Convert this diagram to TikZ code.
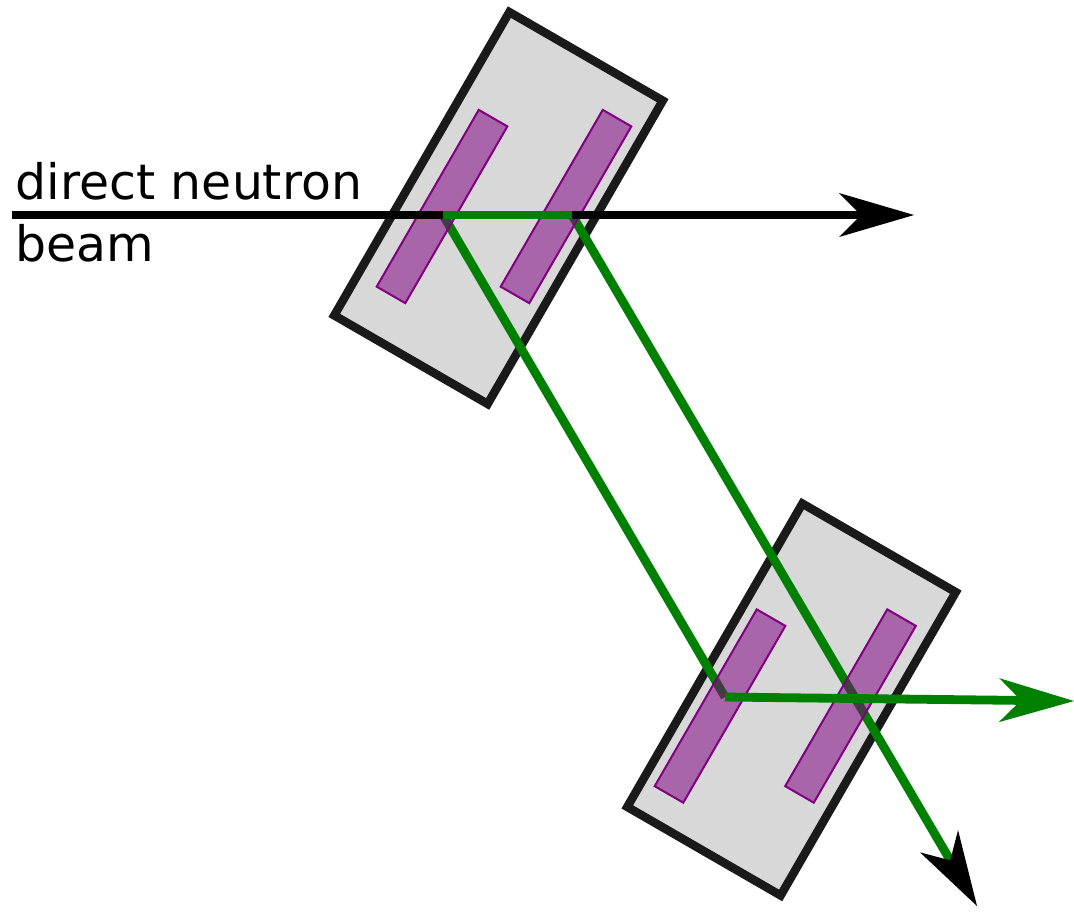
\documentclass[tikz,border=0pt]{standalone}
\usepackage{fontspec}
\setmainfont{DejaVu Sans}
\usetikzlibrary{arrows.meta}
\definecolor{boxgray}{HTML}{D8D8D8}
\definecolor{boxline}{HTML}{1A1A1A}
\definecolor{raygreen}{HTML}{008000}
\definecolor{slabpurple}{HTML}{800080}
\begin{document}
\begin{tikzpicture}[x=0.01cm,y=-0.01cm,
  crystal/.style={rectangle,draw=boxline,fill=boxgray,line width=0.085cm,rotate=-30,inner sep=0pt,minimum width=1.77cm,minimum height=3.5cm},
  slab/.style={rectangle,draw=slabpurple,fill=slabpurple,fill opacity=0.53,line width=0.02cm,rotate=-30,inner sep=0pt,minimum width=0.33cm,minimum height=2.04cm},
  ray/.style={raygreen,line width=0.088cm},
  beamtip/.style={-{Stealth[length=0.75cm,width=0.44cm,inset=0.22cm,line width=0pt,#1]}},
  lbl/.style={anchor=base west,inner sep=0pt,font=\fontsize{13.9pt}{16pt}\selectfont}]
\useasboundingbox (0,0) rectangle (1074,911);
\node[crystal] (c1) at (498.5,208) {};
\node[crystal] (c2) at (791.5,699.5) {};
\coordinate (in) at (12,215);
\coordinate (out) at (914,215);
\coordinate (a) at (443,215);
\coordinate (b) at (572,215);
\coordinate (d) at (725,697);
\coordinate (e) at (977,906);
\coordinate (f) at (1074,701);
\draw[ray,beamtip={color=black}] (b)--(e);
\draw[ray] (a)--(d);
\node[slab] (p1) at (442,206.5) {};
\node[slab] (p2) at (566,206.5) {};
\node[slab] (p3) at (720,706) {};
\node[slab] (p4) at (850.5,706) {};
\draw[line width=0.085cm,beamtip={color=black}] (in)--(out);
\draw[ray] (a)--(b);
\draw[ray,beamtip={color=raygreen}] (d)--(f);
\node[lbl] (t1) at (15,199) {direct neutron};
\node[lbl] (t2) at (15,261) {beam};
\end{tikzpicture}
\end{document}
